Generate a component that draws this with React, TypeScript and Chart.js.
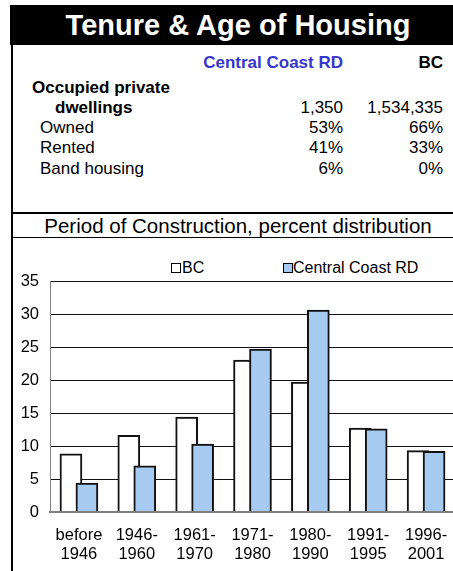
import React, { useEffect, useRef } from "react";
import { Chart, registerables } from "chart.js";

Chart.register(...registerables);

const FONT = '"Liberation Sans", Arial, Helvetica, sans-serif';

// ---- Data ----
const titleText = "Tenure & Age of Housing";
const colHeaders = ["Central Coast RD", "BC"];
const rowLabels = ["Owned", "Rented", "Band housing"];
const dwellingsCCRD = "1,350";
const dwellingsBC = "1,534,335";
const rowCCRD = ["53%", "41%", "6%"];
const rowBC = ["66%", "33%", "0%"];

const chartTitle = "Period of Construction, percent distribution";
const seriesNames = ["BC", "Central Coast RD"];
const categories = [
  ["before", "1946"],
  ["1946-", "1960"],
  ["1961-", "1970"],
  ["1971-", "1980"],
  ["1980-", "1990"],
  ["1991-", "1995"],
  ["1996-", "2001"],
];
const bcValues = [8.8, 11.6, 14.4, 23.0, 19.7, 12.7, 9.3];
const ccrdValues = [4.4, 7.0, 10.3, 24.7, 30.6, 12.6, 9.2];
const yTicks = [0, 5, 10, 15, 20, 25, 30, 35];

const BLUE_FILL = "#a6caf0";
const HEADER_BLUE = "#3636cc";

function BarChart() {
  const ref = useRef<HTMLCanvasElement | null>(null);
  useEffect(() => {
    if (!ref.current) return;
    const off = 0.138;
    const chart = new Chart(ref.current, {
      type: "bar",
      data: {
        datasets: [
          {
            label: seriesNames[1],
            data: ccrdValues.map((v, i) => ({ x: i + off, y: v })),
            backgroundColor: BLUE_FILL,
            borderColor: "#111",
            borderWidth: 2,
            barThickness: 22,
            grouped: false,
            order: 0,
          },
          {
            label: seriesNames[0],
            data: bcValues.map((v, i) => ({ x: i - off, y: v })),
            backgroundColor: "#ffffff",
            borderColor: "#111",
            borderWidth: 2,
            barThickness: 22,
            grouped: false,
            order: 1,
          },
        ],
      },
      options: {
        responsive: false,
        animation: false,
        layout: { padding: { left: 0, top: 43, right: 11, bottom: 0 } },
        plugins: {
          legend: { display: false },
          tooltip: { enabled: false },
          title: { display: false },
        },
        scales: {
          x: {
            type: "linear",
            min: -0.5,
            max: 6.5,
            offset: false,
            afterBuildTicks: (axis: any) => {
              axis.ticks = categories.map((_, i) => ({ value: i }));
            },
            afterFit: (axis: any) => {
              axis.height = 59;
            },
            grid: { display: false, drawTicks: false },
            border: { display: true, color: "#808080", width: 2, z: 1 },
            ticks: {
              padding: 13,
              autoSkip: false,
              maxRotation: 0,
              color: "#000",
              font: { family: FONT, size: 16.5, lineHeight: 1.21 },
              callback: (v: any) => categories[Math.round(Number(v))] ?? "",
            },
          },
          y: {
            min: 0,
            max: 35,
            afterBuildTicks: (axis: any) => {
              axis.ticks = yTicks.map((v) => ({ value: v }));
            },
            afterFit: (axis: any) => {
              axis.width = 38;
            },
            grid: { color: "#111", lineWidth: 1, drawTicks: false },
            border: { display: true, color: "#808080", width: 1 },
            ticks: {
              padding: 11,
              color: "#000",
              font: { family: FONT, size: 16.5 },
            },
          },
        },
      },
    } as any);
    return () => chart.destroy();
  }, []);
  return (
    <canvas
      ref={ref}
      width={454}
      height={333}
      style={{ position: "absolute", left: 12, top: 238, width: 454, height: 333 }}
    />
  );
}

const abs = (extra: React.CSSProperties): React.CSSProperties => ({
  position: "absolute",
  whiteSpace: "nowrap",
  lineHeight: "20px",
  fontSize: 17,
  color: "#000",
  ...extra,
});

export default function App() {
  const rowY = [128, 148, 169];
  return (
    <div
      style={{
        position: "fixed",
        inset: 0,
        overflow: "hidden",
        background: "#fff",
        fontFamily: FONT,
      }}
    >
      {/* Title bar */}
      <div
        style={{
          position: "absolute",
          left: 10,
          top: 5,
          width: 456,
          height: 40,
          background: "#000",
          color: "#fff",
          fontWeight: "bold",
          fontSize: 29,
          lineHeight: "40px",
          textAlign: "center",
          whiteSpace: "nowrap",
        }}
      >
        {titleText}
      </div>
      {/* Left border */}
      <div style={{ position: "absolute", left: 11, top: 45, width: 2, height: 540, background: "#000" }} />
      {/* Separator line */}
      <div style={{ position: "absolute", left: 11, top: 212, width: 460, height: 2, background: "#000" }} />
      {/* Subtitle underline */}
      <div style={{ position: "absolute", left: 11, top: 237, width: 460, height: 1, background: "#000" }} />

      {/* Table headers */}
      <div style={abs({ right: 453 - 343, top: 53, fontWeight: "bold", color: HEADER_BLUE })}>{colHeaders[0]}</div>
      <div style={abs({ right: 453 - 443, top: 53, fontWeight: "bold" })}>{colHeaders[1]}</div>

      <div style={abs({ left: 32, top: 78, fontWeight: "bold" })}>Occupied private</div>
      <div style={abs({ left: 55, top: 98, fontWeight: "bold" })}>dwellings</div>
      <div style={abs({ right: 453 - 343, top: 98 })}>{dwellingsCCRD}</div>
      <div style={abs({ right: 453 - 443, top: 98 })}>{dwellingsBC}</div>

      {rowLabels.map((lab, i) => (
        <React.Fragment key={lab}>
          <div style={abs({ left: 40, top: rowY[i] - 10 })}>{lab}</div>
          <div style={abs({ right: 453 - 343, top: rowY[i] - 10 })}>{rowCCRD[i]}</div>
          <div style={abs({ right: 453 - 443, top: rowY[i] - 10 })}>{rowBC[i]}</div>
        </React.Fragment>
      ))}

      {/* Chart subtitle */}
      <div
        style={{
          position: "absolute",
          left: 10,
          width: 456,
          top: 214,
          height: 23,
          lineHeight: "23px",
          fontSize: 20.5,
          textAlign: "center",
          whiteSpace: "nowrap",
          color: "#000",
        }}
      >
        {chartTitle}
      </div>

      {/* Legend */}
      <div style={{ position: "absolute", left: 171, top: 263, width: 8, height: 8, border: "1px solid #000", background: "#fff" }} />
      <div style={abs({ left: 182, top: 258, fontSize: 16 })}>{seriesNames[0]}</div>
      <div style={{ position: "absolute", left: 283, top: 263, width: 8, height: 8, border: "1px solid #000", background: BLUE_FILL }} />
      <div style={abs({ left: 293, top: 258, fontSize: 16 })}>{seriesNames[1]}</div>

      <BarChart />
    </div>
  );
}
